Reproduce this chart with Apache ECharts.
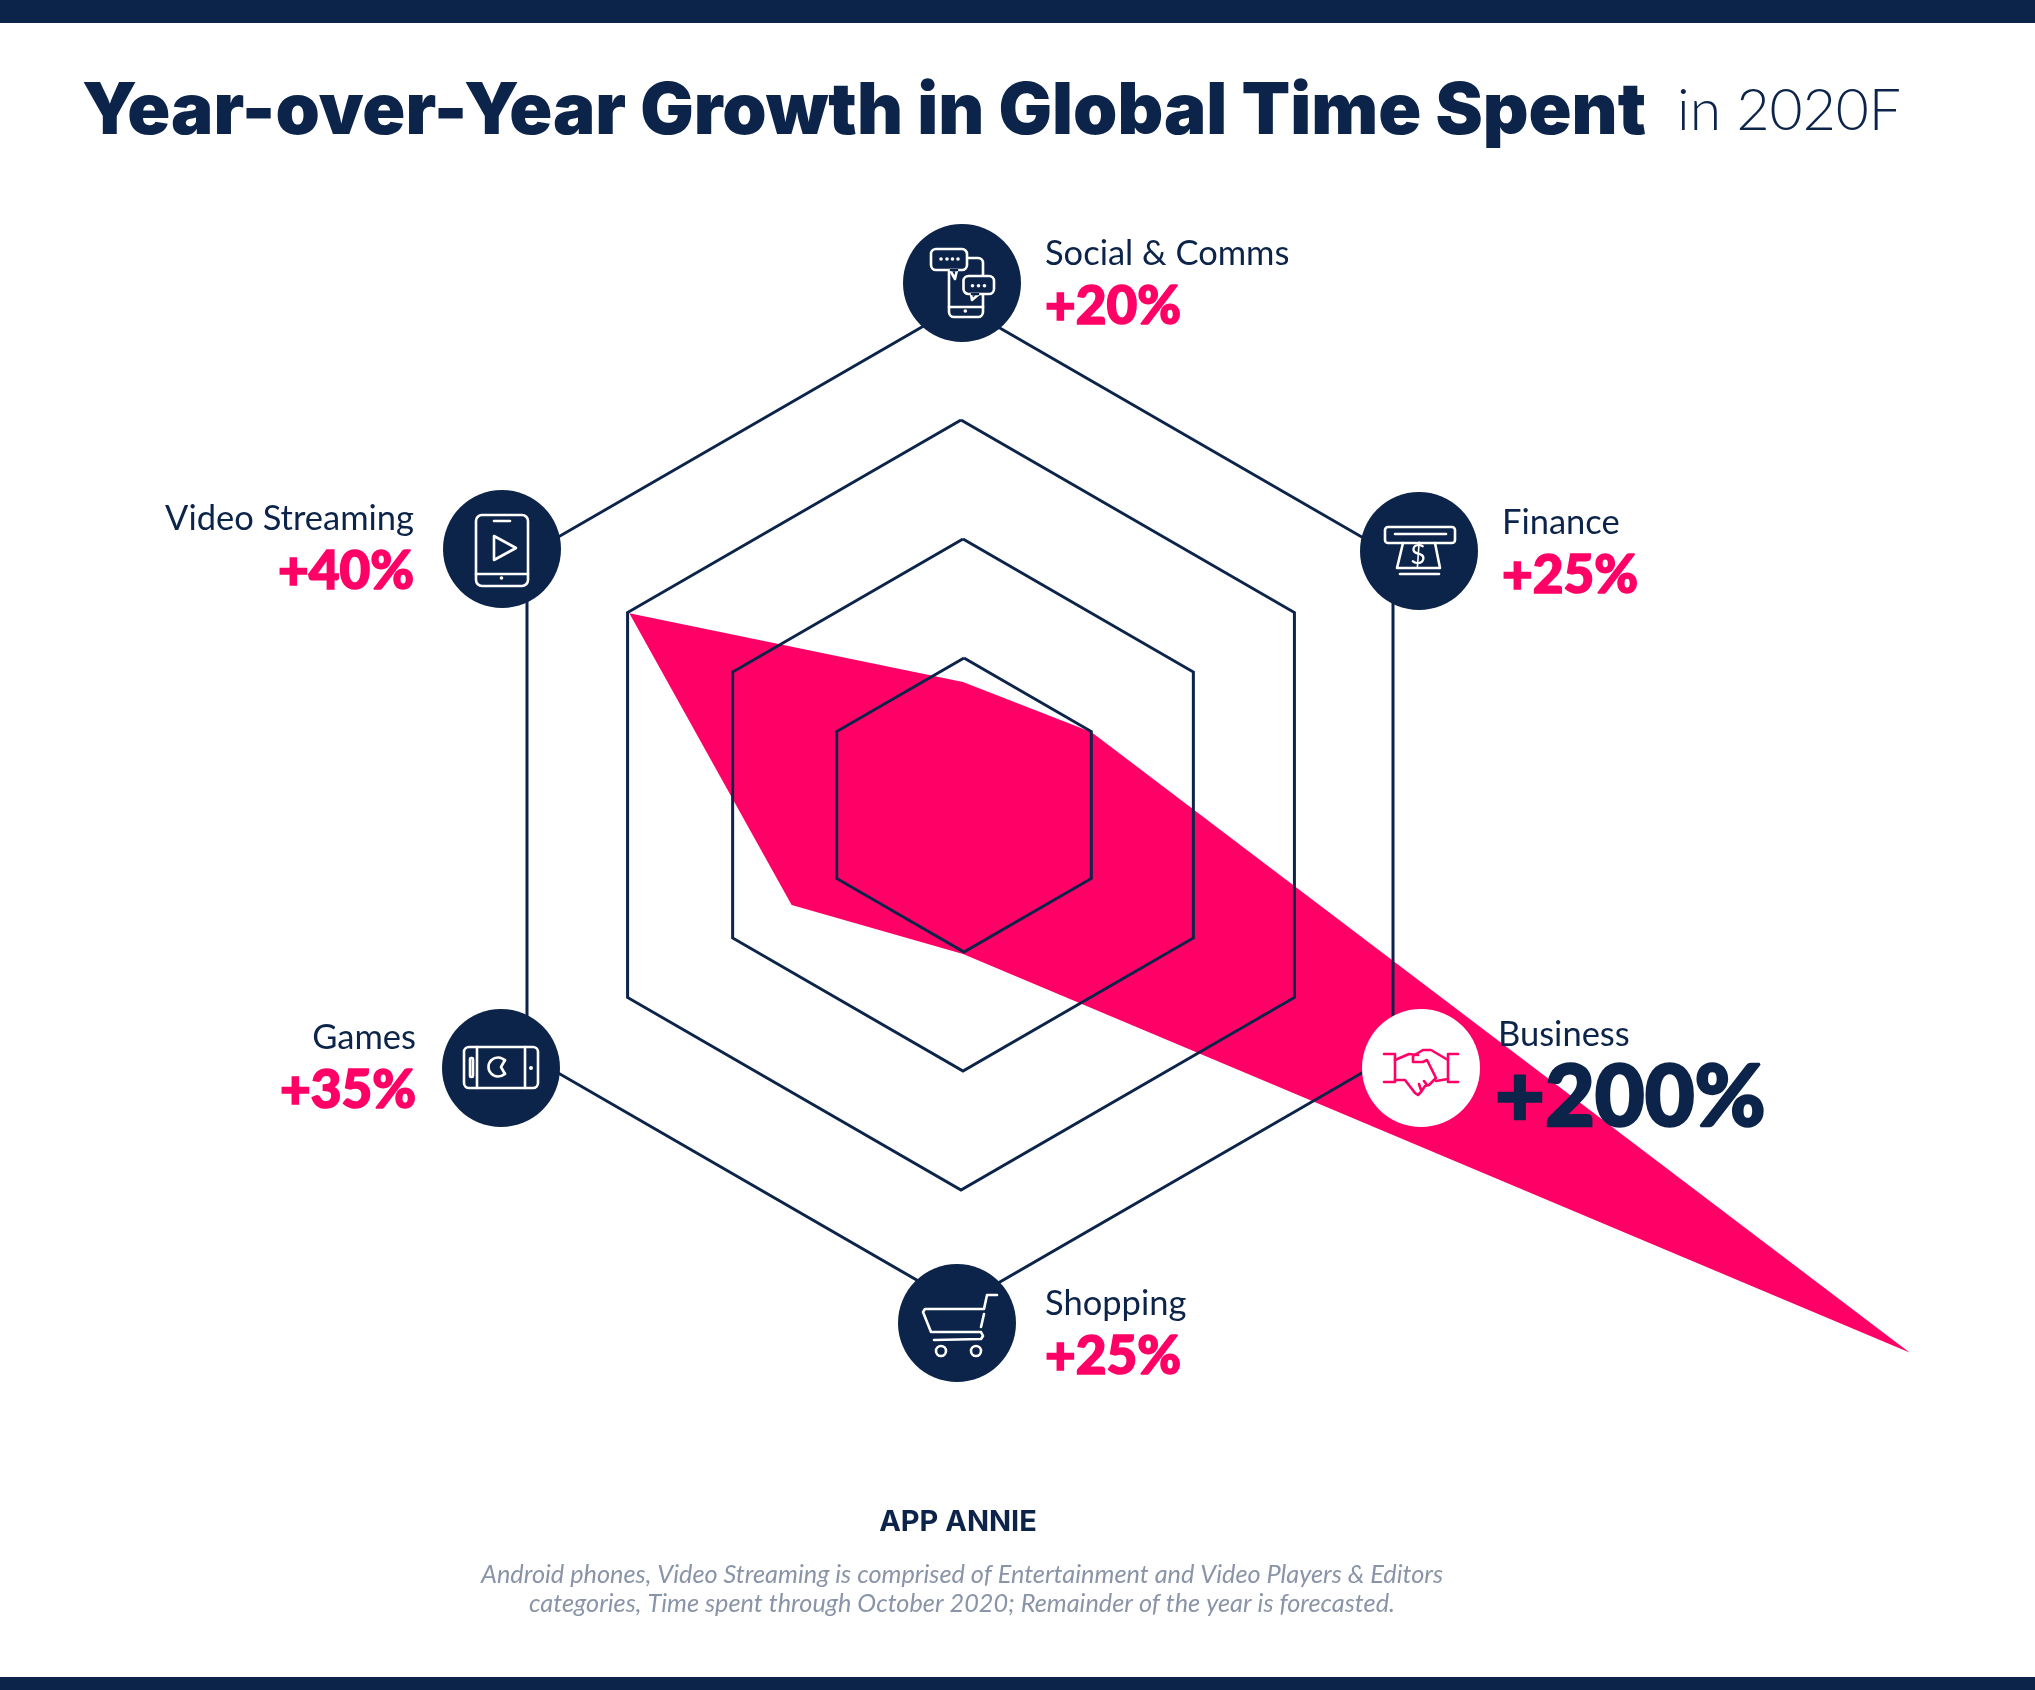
<!DOCTYPE html>
<html><head><meta charset="utf-8">
<style>html,body{margin:0;padding:0;background:#fff}#c{width:2035px;height:1690px}</style>
<script src="https://cdn.jsdelivr.net/npm/echarts@6/dist/echarts.min.js"></script>
</head><body><div id="c"></div>
<script>
// ECharts lays radar indicators out counter-clockwise from the top
const categories = ['Social & Comms','Video Streaming','Games','Shopping','Business','Finance'];
// growth figures as printed beside each category
const printedGrowth = ['+20%','+40%','+35%','+25%','+200%','+25%'];
// polygon vertices, on a scale where Business = 200
// (the source graphic does not plot the printed figures proportionally)
const plottedGrowth = [22.7,70.5,36.2,27.1,200,27.1];
const plotMax = 200;

const NAVY='#0c2449', PINK='#ff0066', FONT='Lato, "Open Sans", sans-serif', HEAVY='Lato, Inter, sans-serif', TITLE='Inter, Lato, sans-serif';
const indicator = categories.map(name=>({name,min:0,max:plotMax}));
const ring=(cx,r)=>({indicator,center:[cx,805],radius:r,startAngle:90,splitNumber:1,shape:'polygon',z:5,
  axisName:{show:false},axisLine:{show:false},axisTick:{show:false},axisLabel:{show:false},splitArea:{show:false},
  splitLine:{show:true,lineStyle:{color:NAVY,width:3}}});
const plotRadar={indicator,center:[963,806],radius:1093,startAngle:90,splitNumber:1,shape:'polygon',z:1,
  axisName:{show:false},axisLine:{show:false},axisTick:{show:false},axisLabel:{show:false},splitArea:{show:false},splitLine:{show:false}};

const Z=20;
const txt=(s,x,y,size,o={})=>({type:'text',z:o.z||Z,x,y,style:{text:s,fontSize:size,fontFamily:o.font||FONT,fontWeight:o.weight||400,fontStyle:o.style||'normal',
  fill:o.fill||NAVY,align:o.align||'left',verticalAlign:'bottom',...(o.bold?{stroke:o.fill||NAVY,lineWidth:o.bold,lineJoin:'round'}:{})}});
// icon parts, coordinates relative to the badge centre
const st=c=>({stroke:c,fill:'none',lineWidth:2.6,lineCap:'round',lineJoin:'round'});
const R=(x0,y0,x1,y1,r,c,fill)=>({type:'rect',shape:{x:x0,y:y0,width:x1-x0,height:y1-y0,r},style:{...st(c),fill:fill||'none'}});
const P=(pts,c)=>({type:'polyline',shape:{points:pts},style:st(c)});
const D=(x,y,r,c)=>({type:'circle',shape:{cx:x,cy:y,r},style:{fill:c}});
const O=(x,y,r,c)=>({type:'circle',shape:{cx:x,cy:y,r},style:st(c)});
const W='#fff';
const icons={
 'Social & Comms':[R(-13,-25,21,34,5,W),P([[-13,24],[21,24]],W),D(3.3,28,1.8,W),
   R(-31,-34,5,-13,5,W,NAVY),{type:'polygon',shape:{points:[[-12,-13],[-7,-4],[-5,-13]]},style:{...st(W),fill:NAVY}},P([[-11,-13],[-5,-13]],NAVY),
   D(-21,-24,1.8,W),D(-15,-24,1.8,W),D(-9.5,-24,1.8,W),D(-4,-24,1.8,W),
   R(1.5,-7,32,11,5,W,NAVY),{type:'polygon',shape:{points:[[9,11],[10,17],[17,11]]},style:{...st(W),fill:NAVY}},P([[10,11],[16,11]],NAVY),
   D(10.5,2.7,1.8,W),D(16.5,2.7,1.8,W),D(22.5,2.7,1.8,W)],
 'Video Streaming':[R(-26,-34,26,37,6,W),P([[-26,25],[26,25]],W),P([[-8,-28],[8,-28]],W),D(-0.5,29,1.8,W),
   {type:'polygon',shape:{points:[[-8,-13],[14,-1],[-8,11]]},style:st(W)}],
 'Finance':[R(-34,-24,36,-8,3,W),P([[-24,-17],[27,-17]],W),P([[-16,-8],[-22,17],[21,17],[16,-8]],W),P([[-19,23],[20,23]],W),
   {type:'text',x:-1,y:4,style:{text:'$',fontSize:27,fontFamily:FONT,fill:W,align:'center',verticalAlign:'middle'}}],
 'Games':[R(-37,-21,37,20,5,W),P([[-24,-21],[-24,20]],W),P([[24,-21],[24,20]],W),R(-31,-10,-28,9,1,W),D(30,0,2,W),
   {type:'arc',shape:{cx:-3,cy:-1,r:9.5,startAngle:-0.75,endAngle:0.75,clockwise:false},style:st(W)},P([[4,-8],[0,-1],[4,6]],W)],
 'Shopping':[P([[40,-28],[30,-28],[27,-14],[-32,-14],[-34,-11],[-26,9],[24,9],[26,13],[24,16],[-23,17]],W),P([[27,-9],[24,4]],W),O(-16,28,5,W),O(19,28,5,W)],
 'Business':[P([[-37,-14],[-26,-14],[-26,14],[-37,14]],PINK),P([[37,-14],[27,-14],[27,14],[37,14]],PINK),
   P([[-26,-8],[-12,-14],[-3,-13]],PINK),
   P([[27,-8],[10,-18],[2,-18],[-8,-12],[-8,-6],[2,-6],[6,-8],[15,10],[8,17],[4,18],[0,24],[-3,27],[-6,25],[-16,12],[-26,12]],PINK),
   P([[27,11],[15,13]],PINK),P([[-2,16],[0,22]],PINK),P([[3,13],[6,17]],PINK)]
};
const badgeCentre={'Social & Comms':[962,283],'Finance':[1419,551],'Business':[1421,1068],'Shopping':[957,1323],'Games':[501,1068],'Video Streaming':[502,549]};
const labelAt={'Social & Comms':[1045,271,333,'left'],'Finance':[1502,540,602,'left'],'Shopping':[1045,1321,1383,'left'],'Games':[416,1055,1117,'right'],'Video Streaming':[414,536,598,'right']};

const gfx=[
 {type:'rect',z:Z,shape:{x:0,y:0,width:2035,height:23},style:{fill:NAVY}},
 {type:'rect',z:Z,shape:{x:0,y:1677,width:2035,height:13},style:{fill:NAVY}},
 txt('Year-over-Year Growth in Global Time Spent',82,148,71,{font:TITLE,weight:900}),
 txt('in 2020F',1677,140,57,{weight:300}),
 txt('APP ANNIE',958,1537,29,{font:TITLE,weight:700,align:'center'}),
 txt('Android phones, Video Streaming is comprised of Entertainment and Video Players & Editors',962,1587,25.3,{style:'italic',fill:'#8a94a8',align:'center'}),
 txt('categories, Time spent through October 2020; Remainder of the year is forecasted.',962,1616,25.3,{style:'italic',fill:'#8a94a8',align:'center'})
];
categories.forEach((c,i)=>{
  const [cx,cy]=badgeCentre[c], biz=c==='Business';
  gfx.push({type:'group',x:cx,y:cy,z:Z,children:[{type:'circle',shape:{cx:0,cy:0,r:59},style:{fill:biz?'#fff':NAVY}},...icons[c]].map(e=>({...e,z:Z}))});
  if(biz){
    gfx.push(txt(c,1498,1052,34.5));
    gfx.push(txt(printedGrowth[i],1495,1141,86,{font:HEAVY,weight:900,bold:2.4}));
  }else{
    const [x,y1,y2,align]=labelAt[c];
    gfx.push(txt(c,x,y1,34.5,{align}));
    gfx.push(txt(printedGrowth[i],x,y2,53,{font:HEAVY,weight:900,fill:PINK,align,bold:1.6}));
  }
});

const chart=echarts.init(document.getElementById('c'),null,{renderer:'canvas',width:2035,height:1690});
chart.setOption({
  animation:false,backgroundColor:'#fff',
  radar:[plotRadar,ring(964,147),ring(963,266),ring(961,385),ring(960,500)],
  series:[{type:'radar',radarIndex:0,z:2,symbol:'none',silent:true,
    lineStyle:{width:0,color:PINK},itemStyle:{color:PINK},areaStyle:{color:PINK,opacity:1},
    data:[{name:'Growth',value:plottedGrowth}]}],
  graphic:{elements:gfx}
});
</script></body></html>
